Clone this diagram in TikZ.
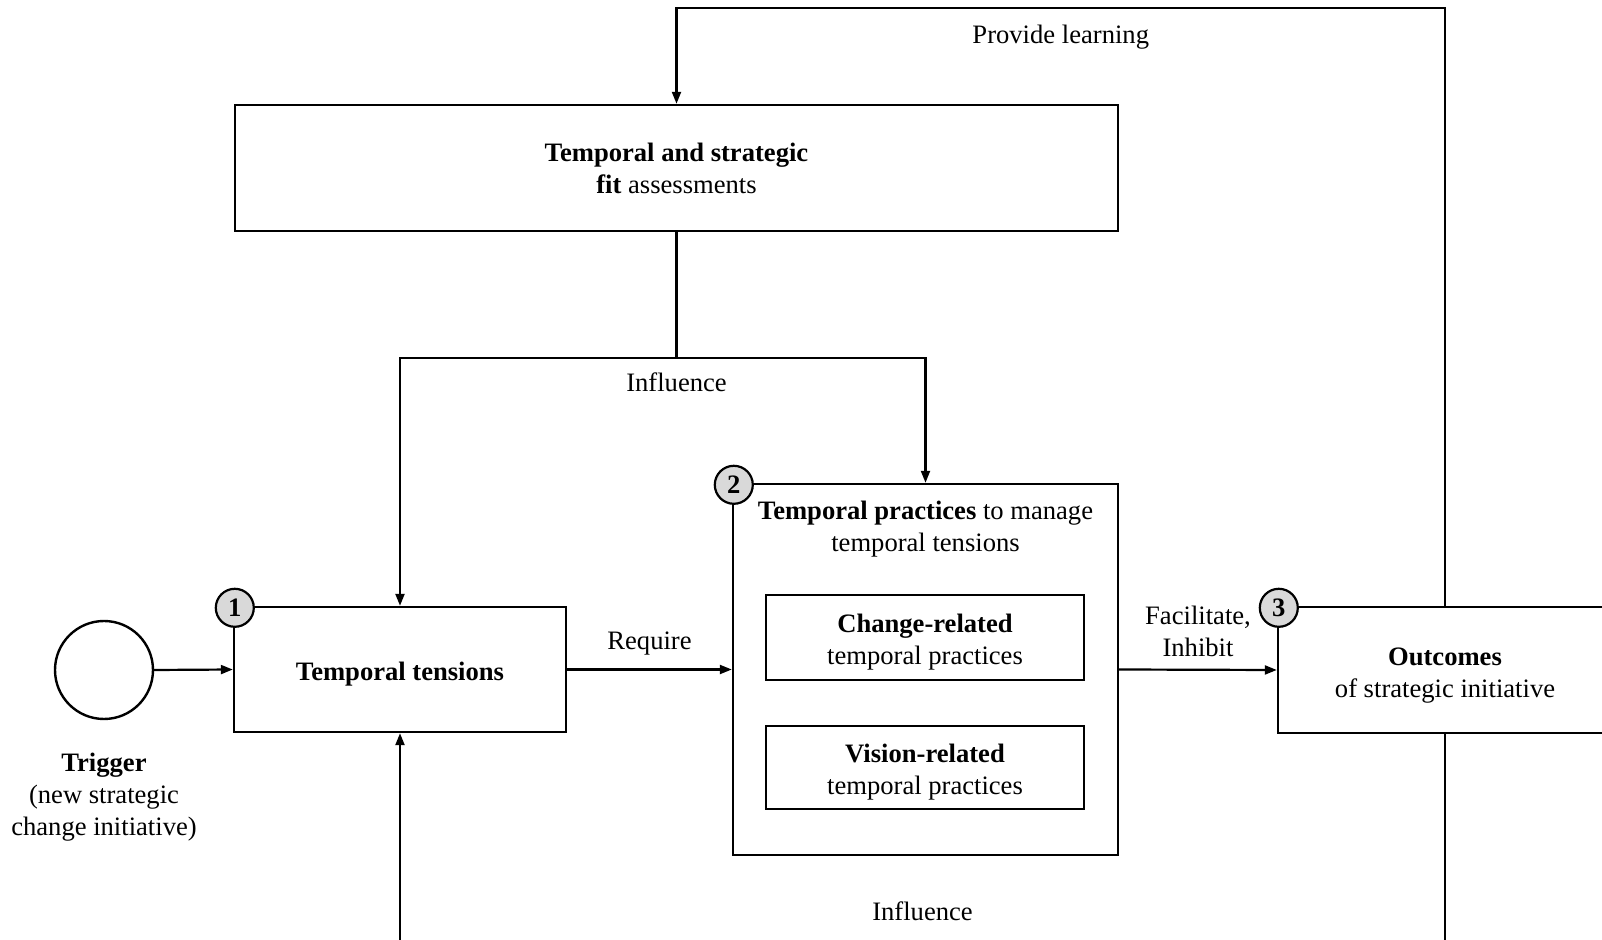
\documentclass[tikz,border=0pt]{standalone}
\usepackage{fontspec}
\setmainfont{Liberation Serif}
\usetikzlibrary{arrows.meta,positioning,calc}
\newcommand\boxstrut{\rule{0pt}{14pt}}

\begin{document}
\begin{tikzpicture}[x=0.5pt,y=-0.5pt,
  every node/.style={font=\fontsize{13.3}{16}\selectfont, align=center},
  box/.style={draw, line width=1.2pt, inner sep=0pt},
  conn/.style={line width=1.1pt},
  arr/.style={conn, -{Triangle[length=6pt,width=4.5pt]}},
  lbl/.style={inner sep=2pt},
  numtag/.style={circle, draw, line width=1.1pt, fill=gray!30, minimum size=19pt, inner sep=0pt, font=\fontsize{13.3}{16}\selectfont\bfseries}]
% Canvas
\useasboundingbox (0,0) rectangle (1602,940);
\clip (0,0) rectangle (1602,940);
% Boxes
\node[box, minimum width=441.5pt, minimum height=63pt] (fit) at (676.5,168) {\textbf{Temporal and strategic}\\\textbf{fit} assessments};
\node[box, minimum width=166pt, minimum height=62.5pt] (tensions) at (400,669.5) {\boxstrut\textbf{Temporal tensions}};
\node[box, minimum width=192.5pt, minimum height=185.5pt] (practices) at (925.5,669.5) {};
\node[lbl, below=7pt of practices.north] (practext) {\textbf{Temporal practices} to manage\\temporal tensions};
\node[box, minimum width=159pt, minimum height=42.5pt] (change) at (925,637.5) {\boxstrut\textbf{Change-related}\\temporal practices};
\node[box, minimum width=159pt, minimum height=41.5pt] (vision) at (925,767.5) {\boxstrut\textbf{Vision-related}\\temporal practices};
\node[box, minimum width=167pt, minimum height=63pt] (outcomes) at (1445,670) {\boxstrut\textbf{Outcomes}\\of strategic initiative};
% Trigger
\node[circle, draw, line width=1.2pt, minimum size=49pt, inner sep=0pt] (trigger) at (104,670) {};
\node[lbl, below=14pt of trigger] (trigtext) {\textbf{Trigger}\\(new strategic\\change initiative)};
% Connectors
\coordinate (looptop) at (0,8);
\coordinate (fork) at (676,358);
\coordinate (loopbot) at (0,948);
\draw[arr] (outcomes.north) -- (outcomes.north |- looptop) -- node[lbl, below=6pt] {Provide learning} (fit.north |- looptop) -- (fit.north);
\draw[conn] (fit.south) -- (fit.south |- fork) node[lbl, below=5pt] {Influence};
\draw[arr] (fit.south |- fork) -| (tensions.north);
\draw[arr] (fit.south |- fork) -| (practices.north);
\draw[arr] (trigger.east) -- (tensions.west);
\draw[arr] (tensions.east) -- node[lbl, above=4.5pt] {Require} (practices.west);
\draw[arr] (practices.east) -- node[lbl, above=4pt] {Facilitate,\\Inhibit} (outcomes.west);
\draw[arr] (outcomes.south) -- (outcomes.south |- loopbot) -- node[lbl, above=11pt] {Influence} (tensions.south |- loopbot) -- (tensions.south);
% Number tags
\foreach \n/\b in {1/tensions,2/practices,3/outcomes}
  \node[numtag, xshift=1pt, yshift=-1pt] (tag\n) at (\b.north west) {\n};
\end{tikzpicture}
\end{document}
